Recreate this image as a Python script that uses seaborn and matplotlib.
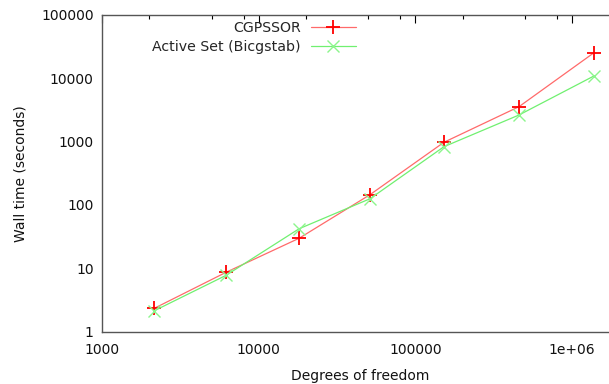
import matplotlib
matplotlib.use("Agg")
import matplotlib.pyplot as plt
import matplotlib.ticker as mticker
import seaborn as sns
import numpy as np
import pandas as pd

# values (log-log)
dof = [2160, 6180, 18100, 51300, 152000, 458000, 1380000]
cgpssor = [2.33, 8.6, 29.7, 145, 975, 3560, 25400]
active_set = [2.13, 7.7, 42, 125, 830, 2630, 10900]

sns.set_style("white")
plt.rcParams['font.family'] = ['DejaVu Sans']

fig = plt.figure(figsize=(6.09, 3.84), dpi=100)
# axes run past the right edge of the picture, like the cropped gnuplot output
ax = fig.add_axes([102 / 609, 52.5 / 384, 517.3 / 609, 316.5 / 384])

df1 = pd.DataFrame({"x": dof, "y": cgpssor})
df2 = pd.DataFrame({"x": dof, "y": active_set})
sns.lineplot(data=df1, x="x", y="y", ax=ax, color="#ff6a6a", lw=0.9,
             marker="+", markersize=10, mec="#ff0000", mew=1.3,
             label="CGPSSOR")
sns.lineplot(data=df2, x="x", y="y", ax=ax, color="#70f070", lw=0.9,
             marker="x", markersize=8.5, mec="#8cf58c", mew=1.0,
             label="Active Set (Bicgstab)")

ax.set_xscale("log")
ax.set_yscale("log")
ax.set_xlim(1000, 2e6)
ax.set_ylim(1, 100000)

xt = [1000, 10000, 100000, 1000000]
ax.set_xticks(xt)
ax.set_xticklabels(["1000", "10000", "100000", "1e+06"])
yt = [1, 10, 100, 1000, 10000, 100000]
ax.set_yticks(yt)
ax.set_yticklabels([str(v) for v in yt])
ax.xaxis.set_minor_locator(mticker.LogLocator(base=10, subs=[2, 5, 8], numticks=20))
ax.yaxis.set_minor_locator(mticker.LogLocator(base=10, subs=[2, 5, 8], numticks=20))
ax.xaxis.set_minor_formatter(mticker.NullFormatter())
ax.yaxis.set_minor_formatter(mticker.NullFormatter())

ax.tick_params(which="both", direction="in", top=True, right=True,
               color="black", width=0.8, labelsize=10, labelcolor="#111111")
ax.tick_params(axis="y", which="major", length=5.8, pad=6)
ax.tick_params(axis="x", which="major", length=5.8, pad=8)
ax.tick_params(which="minor", length=2.9)

for s in ax.spines.values():
    s.set_visible(True)
    s.set_color("#555555")
    s.set_linewidth(1.0)

ax.set_xlabel("Degrees of freedom", fontsize=10, labelpad=9, color="#111111")
ax.set_ylabel("Wall time (seconds)", fontsize=10, labelpad=10, color="#111111")

ax.legend(loc="upper right", bbox_to_anchor=(363 / 609, 1 - 14 / 384),
          bbox_transform=fig.transFigure, markerfirst=False,
          frameon=False, fontsize=10.2, handlelength=3.2,
          handletextpad=0.7, labelspacing=0.35, borderpad=0)

fig.savefig("out.png", dpi=100)
